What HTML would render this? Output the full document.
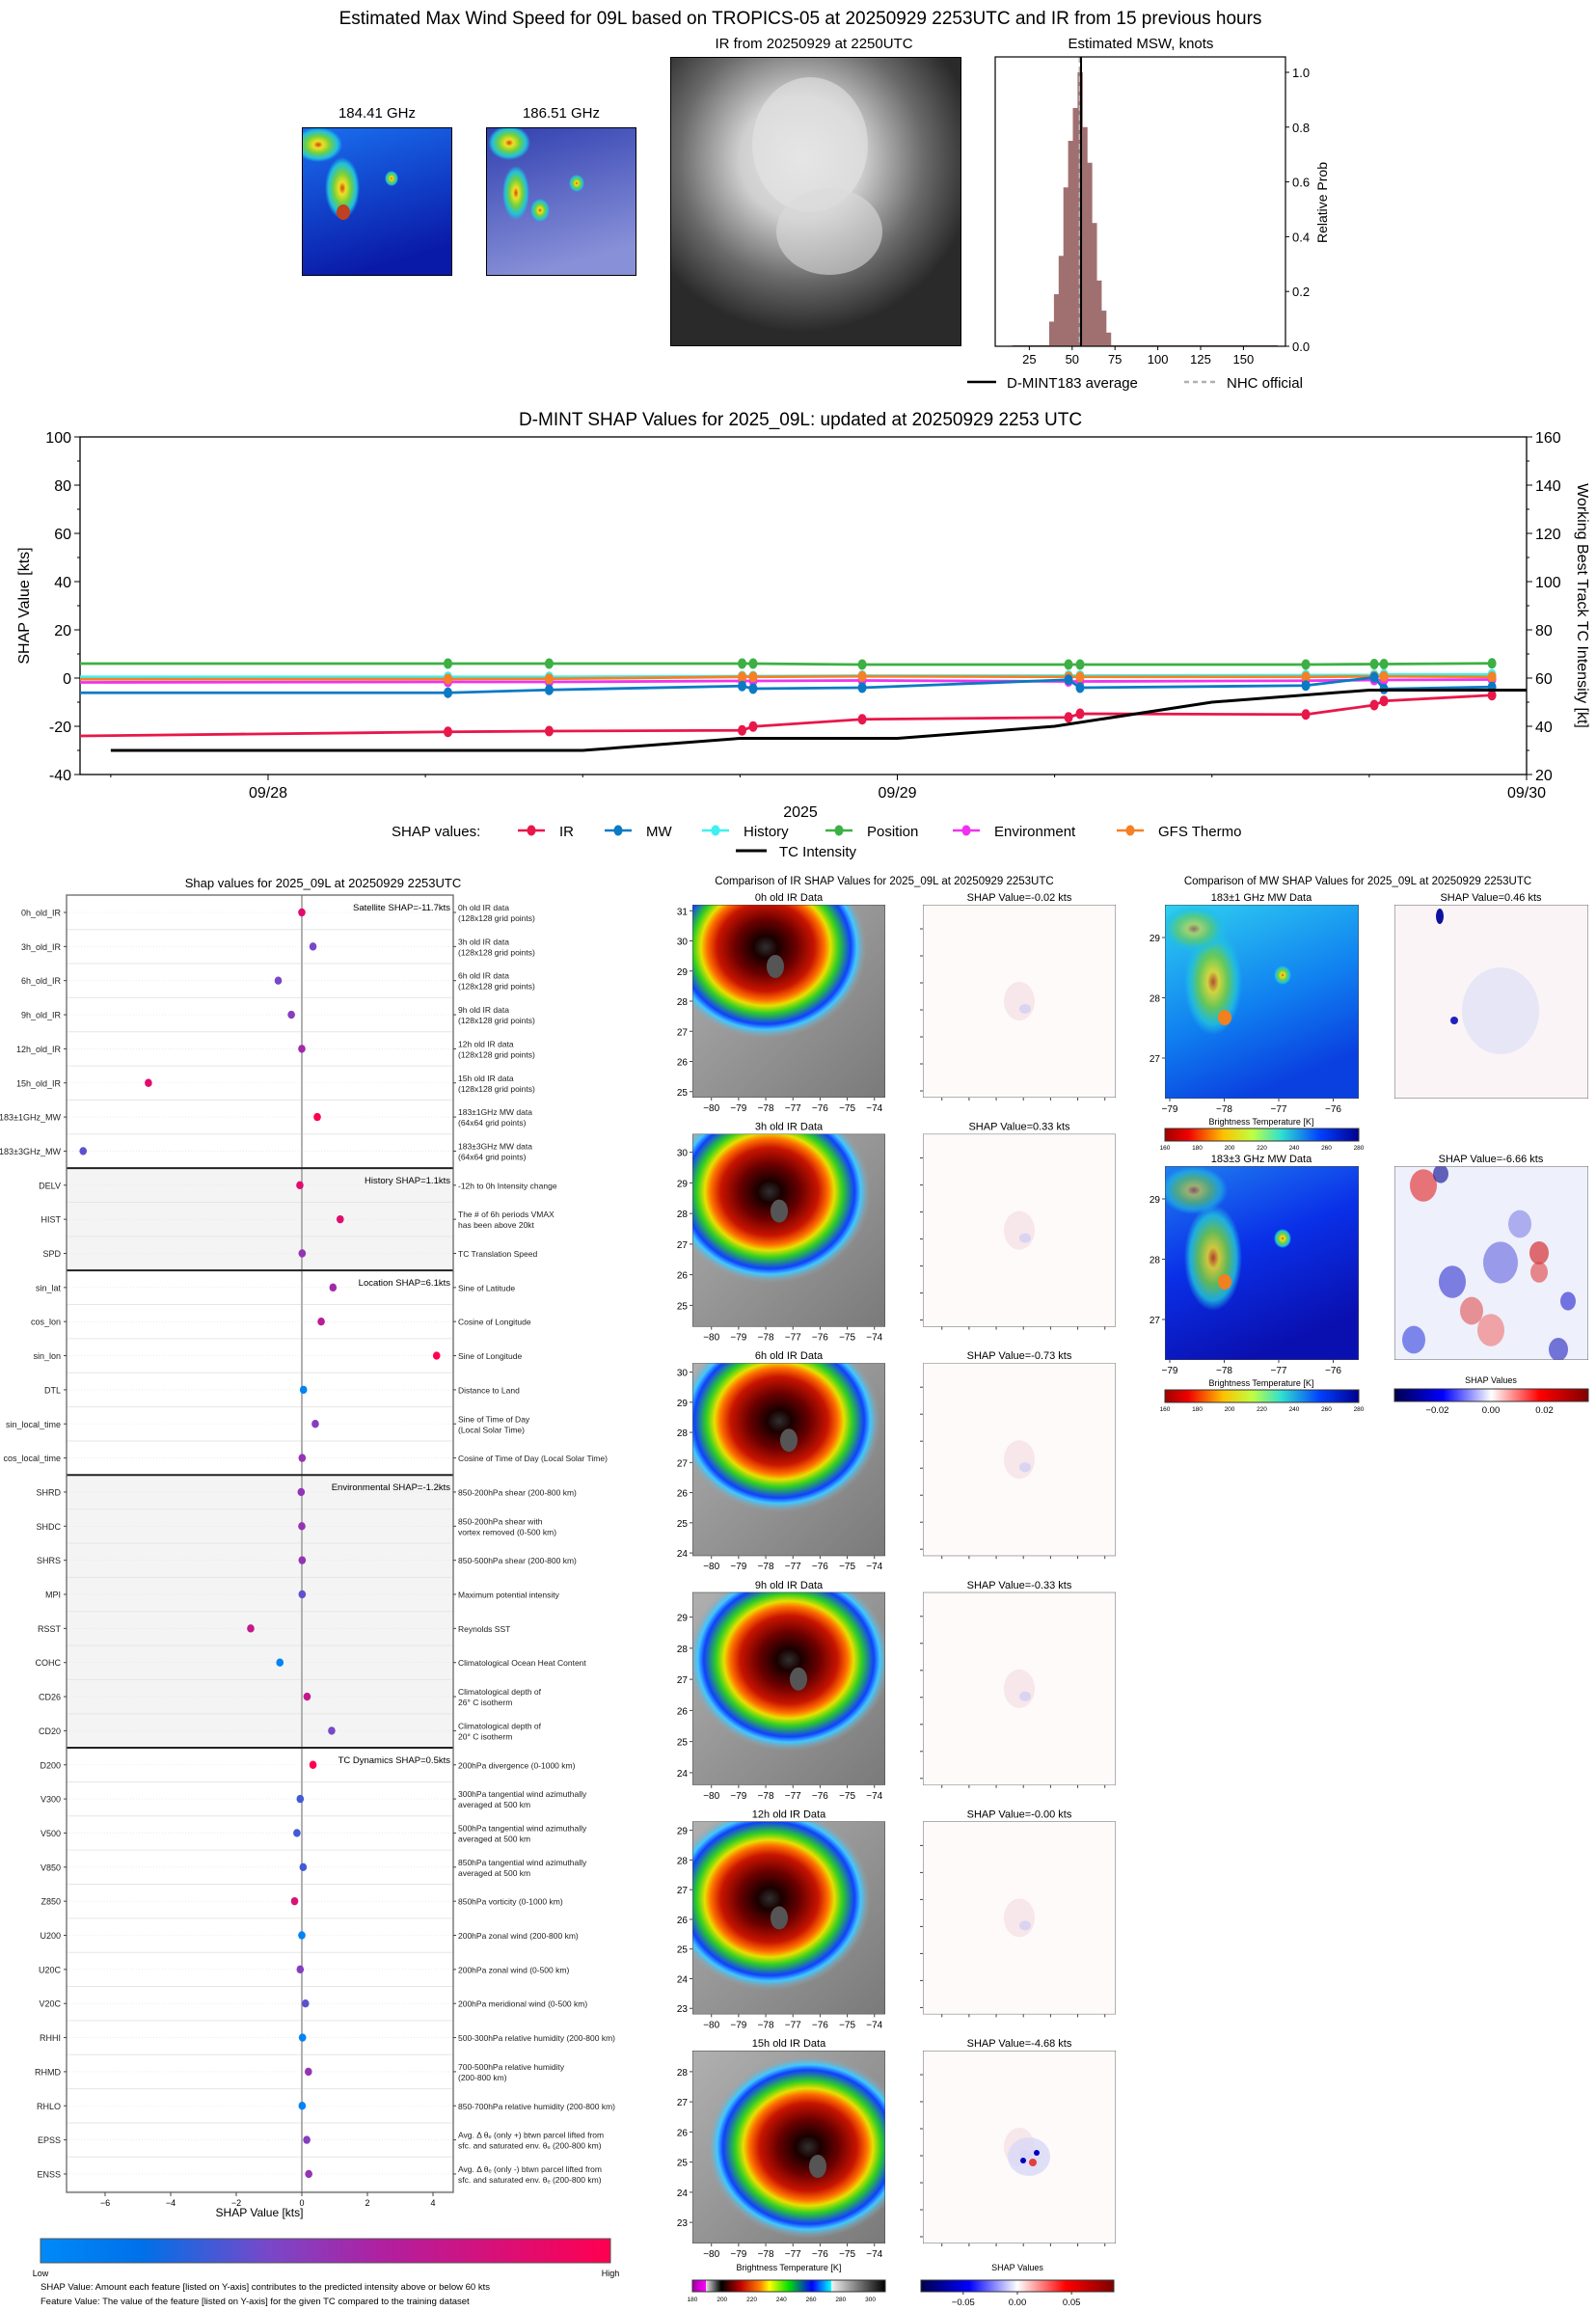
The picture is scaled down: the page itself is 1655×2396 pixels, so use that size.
<!DOCTYPE html>
<html><head><meta charset="utf-8"><style>
html,body{margin:0;padding:0;background:#fff;}
svg{display:block;font-family:"Liberation Sans","DejaVu Sans",sans-serif;}
</style></head><body>
<svg id="S" width="1655" height="2396" viewBox="0 0 1655 2396" xmlns="http://www.w3.org/2000/svg">
<defs id="D">
<radialGradient id="irStorm" cx="50%" cy="50%" r="50%">
<stop offset="0" stop-color="#303030"/><stop offset="0.12" stop-color="#1a0000"/><stop offset="0.3" stop-color="#6a0000"/><stop offset="0.48" stop-color="#c81400"/><stop offset="0.58" stop-color="#ff7000"/><stop offset="0.64" stop-color="#e8e000"/><stop offset="0.72" stop-color="#30d020"/><stop offset="0.84" stop-color="#1040ff"/><stop offset="0.9" stop-color="#40c8ff"/><stop offset="1" stop-color="#a0a0a0" stop-opacity="0"/>
</radialGradient>
<linearGradient id="irBg" x1="0" y1="0" x2="1" y2="1"><stop offset="0" stop-color="#b0b0b0"/><stop offset="1" stop-color="#7a7a7a"/></linearGradient>
<radialGradient id="bigIR" cx="45%" cy="35%" r="60%"><stop offset="0" stop-color="#e8e8e8"/><stop offset="0.35" stop-color="#cfcfcf"/><stop offset="0.7" stop-color="#6a6a6a"/><stop offset="1" stop-color="#2a2a2a"/></radialGradient>
<linearGradient id="mwBlue" x1="0" y1="0" x2="0.3" y2="1"><stop offset="0" stop-color="#1a70f0"/><stop offset="1" stop-color="#0a1aa8"/></linearGradient>
<linearGradient id="mwPurp" x1="0" y1="0" x2="0.3" y2="1"><stop offset="0" stop-color="#3040b0"/><stop offset="1" stop-color="#8890d8"/></linearGradient>
<radialGradient id="mwBlob" cx="50%" cy="50%" r="50%"><stop offset="0" stop-color="#d04010"/><stop offset="0.2" stop-color="#f0e020"/><stop offset="0.5" stop-color="#70d040"/><stop offset="0.8" stop-color="#20c0e0"/><stop offset="1" stop-color="#20c0e0" stop-opacity="0"/></radialGradient>
<linearGradient id="mwBig1" x1="0" y1="0" x2="0.4" y2="1"><stop offset="0" stop-color="#30d0f0"/><stop offset="0.6" stop-color="#1080f0"/><stop offset="1" stop-color="#0a40e0"/></linearGradient>
<linearGradient id="mwBig2" x1="0" y1="0" x2="0.4" y2="1"><stop offset="0" stop-color="#2080f0"/><stop offset="0.5" stop-color="#0a30e8"/><stop offset="1" stop-color="#0a10b0"/></linearGradient>
<linearGradient id="cbLow" x1="0" x2="1"><stop offset="0" stop-color="#008af8"/><stop offset="0.18" stop-color="#0070e8"/><stop offset="0.4" stop-color="#7848c8"/><stop offset="0.6" stop-color="#b020a0"/><stop offset="1" stop-color="#ff0050"/></linearGradient>
<linearGradient id="cbJet" x1="0" x2="1"><stop offset="0" stop-color="#a00000"/><stop offset="0.12" stop-color="#f00000"/><stop offset="0.3" stop-color="#ffc000"/><stop offset="0.45" stop-color="#c0ff40"/><stop offset="0.6" stop-color="#30e0d0"/><stop offset="0.8" stop-color="#0040ff"/><stop offset="1" stop-color="#000090"/></linearGradient>
<linearGradient id="cbSeis" x1="0" x2="1"><stop offset="0" stop-color="#00004c"/><stop offset="0.25" stop-color="#0000ff"/><stop offset="0.5" stop-color="#ffffff"/><stop offset="0.75" stop-color="#ff0000"/><stop offset="1" stop-color="#800000"/></linearGradient>
<linearGradient id="cbIR" x1="0" x2="1"><stop offset="0" stop-color="#a000a0"/><stop offset="0.07" stop-color="#ff00ff"/><stop offset="0.071" stop-color="#e0e0e0"/><stop offset="0.15" stop-color="#000000"/><stop offset="0.25" stop-color="#c00000"/><stop offset="0.35" stop-color="#ff8000"/><stop offset="0.4" stop-color="#ffff00"/><stop offset="0.5" stop-color="#00e000"/><stop offset="0.62" stop-color="#0000ff"/><stop offset="0.72" stop-color="#00ffff"/><stop offset="0.721" stop-color="#f0f0f0"/><stop offset="1" stop-color="#000000"/></linearGradient>
</defs>
</svg>
<script>
const NS="http://www.w3.org/2000/svg";
const S=document.getElementById('S');
const D=document.getElementById('D');
function el(tag,attrs,parent,txt){const e=document.createElementNS(NS,tag);for(const k in attrs)e.setAttribute(k,attrs[k]);if(txt!==undefined)e.textContent=txt;(parent||S).appendChild(e);return e;}
function T(x,y,s,size,anchor,extra){const e=el('text',Object.assign({x:x,y:y,'font-size':size,'text-anchor':anchor||'middle',fill:'#000'},extra||{}),S,s);return e;}
let clipN=0;
function clipG(x,y,w,h){const id='cp'+(clipN++);const cp=el('clipPath',{id:id},D);el('rect',{x:x,y:y,width:w,height:h},cp);return el('g',{'clip-path':'url(#'+id+')'});}

// ---------- TOP: histogram data ----------
const histStart=36.6, histBin=2.76;
const histVals=[0.09,0.19,0.33,0.58,0.75,0.87,1.0,0.8,0.67,0.45,0.24,0.13,0.05];
const histTail=0.004;
const dmintAvg=55.2, nhcOfficial=54.5;

// ---------- MIDDLE: time series data ----------
const shapHours=[-7.2,6.86,10.72,18.08,18.5,22.66,30.53,30.97,39.58,42.19,42.56,46.68];
const irVals=[-24,-22.3,-22,-21.7,-20.1,-17.1,-16.3,-14.8,-15.1,-11.2,-9.5,-7.1];
const mwVals=[-6.1,-6.1,-4.9,-3.3,-4.4,-4,-0.7,-4,-3.1,0.3,-4.5,-3.7];
const histSeries=[0.5,0.5,0.5,0.8,0.8,1,1,1,1.2,1.3,1.5,1.5];
const posVals=[6,6,6,6,6,5.6,5.6,5.6,5.6,5.8,5.8,6.1];
const envVals=[-1.8,-1.6,-1.6,-1.2,-1.2,-1.0,-1.4,-1.4,-1.1,-0.8,-0.8,-0.6];
const gfsVals=[-0.5,-0.4,-0.3,0.5,0.5,0.7,0.5,0.5,0.5,0.7,0.7,0.5];
const tcHours=[-6,0,6,12,18,24,30,36,42,48];
const tcVals=[30,30,30,30,35,35,40,50,55,55];
const dateLabels=['09/28','09/29','09/30'];

// ---------- LEFT: feature SHAP data ----------
const featNames=['0h_old_IR','3h_old_IR','6h_old_IR','9h_old_IR','12h_old_IR','15h_old_IR','183±1GHz_MW','183±3GHz_MW','DELV','HIST','SPD','sin_lat','cos_lon','sin_lon','DTL','sin_local_time','cos_local_time','SHRD','SHDC','SHRS','MPI','RSST','COHC','CD26','CD20','D200','V300','V500','V850','Z850','U200','U20C','V20C','RHHI','RHMD','RHLO','EPSS','ENSS'];
const featShap=[0.0,0.34,-0.72,-0.32,0.0,-4.68,0.47,-6.67,-0.06,1.17,0.01,0.95,0.59,4.11,0.05,0.41,0.01,-0.02,0.0,0.01,0.01,-1.56,-0.67,0.16,0.91,0.34,-0.05,-0.15,0.04,-0.22,0.0,-0.05,0.11,0.02,0.2,0.01,0.15,0.21];
const featValue=[0.85,0.4,0.4,0.45,0.55,0.85,1.0,0.35,0.85,0.85,0.5,0.55,0.65,1.0,0.05,0.45,0.5,0.5,0.5,0.5,0.35,0.7,0.05,0.7,0.4,1.0,0.3,0.3,0.3,0.8,0.05,0.45,0.35,0.05,0.5,0.05,0.45,0.5];
const featDesc=[['0h old IR data','(128x128 grid points)'],['3h old IR data','(128x128 grid points)'],['6h old IR data','(128x128 grid points)'],['9h old IR data','(128x128 grid points)'],['12h old IR data','(128x128 grid points)'],['15h old IR data','(128x128 grid points)'],['183±1GHz MW data','(64x64 grid points)'],['183±3GHz MW data','(64x64 grid points)'],['-12h to 0h Intensity change'],['The # of 6h periods VMAX','has been above 20kt'],['TC Translation Speed'],['Sine of Latitude'],['Cosine of Longitude'],['Sine of Longitude'],['Distance to Land'],['Sine of Time of Day','(Local Solar Time)'],['Cosine of Time of Day (Local Solar Time)'],['850-200hPa shear (200-800 km)'],['850-200hPa shear with','vortex removed (0-500 km)'],['850-500hPa shear (200-800 km)'],['Maximum potential intensity'],['Reynolds SST'],['Climatological Ocean Heat Content'],['Climatological depth of','26° C isotherm'],['Climatological depth of','20° C isotherm'],['200hPa divergence (0-1000 km)'],['300hPa tangential wind azimuthally','averaged at 500 km'],['500hPa tangential wind azimuthally','averaged at 500 km'],['850hPa tangential wind azimuthally','averaged at 500 km'],['850hPa vorticity (0-1000 km)'],['200hPa zonal wind (200-800 km)'],['200hPa zonal wind (0-500 km)'],['200hPa meridional wind (0-500 km)'],['500-300hPa relative humidity (200-800 km)'],['700-500hPa relative humidity','(200-800 km)'],['850-700hPa relative humidity (200-800 km)'],['Avg. Δ θₑ (only +) btwn parcel lifted from','sfc. and saturated env. θₑ (200-800 km)'],['Avg. Δ θₑ (only -) btwn parcel lifted from','sfc. and saturated env. θₑ (200-800 km)']];
const groupStarts=[0,8,11,17,25];
const groupEnds=[8,11,17,25,38];
const groupLabels=['Satellite SHAP=-11.7kts','History SHAP=1.1kts','Location SHAP=6.1kts','Environmental SHAP=-1.2kts','TC Dynamics SHAP=0.5kts'];
const groupShaded=[false,true,false,true,false];
const shapTicks=[-6,-4,-2,0,2,4];

// ---------- IR panels ----------
const irTitles=['0h old IR Data','3h old IR Data','6h old IR Data','9h old IR Data','12h old IR Data','15h old IR Data'];
const irShapVals=['-0.02','0.33','-0.73','-0.33','-0.00','-4.68'];
const irLatMin=[24.8,24.3,23.9,23.6,22.8,22.3];
const irLatMax=[31.2,30.6,30.3,29.8,29.3,28.7];
const lonTicks=[-80,-79,-78,-77,-76,-75,-74];

// ===== TOP FIGURE =====
T(830,25,'Estimated Max Wind Speed for 09L based on TROPICS-05 at 20250929 2253UTC and IR from 15 previous hours',19);
let t;
t=T(391,122,'184.41 GHz',15);  
t=T(582,122,'186.51 GHz',15);  
T(844,50,'IR from 20250929 at 2250UTC',15);
T(1183,50,'Estimated MSW, knots',15);
let g=clipG(313,132,156,154);  
el('rect',{x:313,y:132,width:156,height:154,fill:'url(#mwBlue)'},g);
el('ellipse',{cx:330,cy:150,rx:25,ry:18,fill:'url(#mwBlob)'},g);
el('ellipse',{cx:355,cy:195,rx:18,ry:32,fill:'url(#mwBlob)'},g);
el('ellipse',{cx:356,cy:220,rx:7,ry:8,fill:'#c04020'},g);
el('ellipse',{cx:406,cy:185,rx:7,ry:8,fill:'url(#mwBlob)'},g);
el('rect',{x:313,y:132,width:156,height:154,fill:'none',stroke:'#000','stroke-width':2},g);
g=clipG(504,132,156,154);  
el('rect',{x:504,y:132,width:156,height:154,fill:'url(#mwPurp)'},g);
el('ellipse',{cx:528,cy:148,rx:22,ry:18,fill:'url(#mwBlob)'},g);
el('ellipse',{cx:535,cy:200,rx:14,ry:28,fill:'url(#mwBlob)'},g);
el('ellipse',{cx:560,cy:218,rx:10,ry:12,fill:'url(#mwBlob)'},g);
el('ellipse',{cx:598,cy:190,rx:8,ry:9,fill:'url(#mwBlob)'},g);
el('rect',{x:504,y:132,width:156,height:154,fill:'none',stroke:'#000','stroke-width':2},g);
g=clipG(695,59,302,300);  
el('rect',{x:695,y:59,width:302,height:300,fill:'url(#bigIR)'},g);
el('ellipse',{cx:840,cy:150,rx:60,ry:70,fill:'#e4e4e4',opacity:0.6},g);
el('ellipse',{cx:860,cy:240,rx:55,ry:45,fill:'#dadada',opacity:0.6},g);
el('rect',{x:695,y:59,width:302,height:300,fill:'none',stroke:'#000','stroke-width':2},g);
const HX0=1032,HX1=1333,HY0=59,HY1=359;
const hx=v=>1023+v*1.776, hy=p=>HY1-p*(HY1-75);
g=el('g',{});  
el('rect',{x:hx(15),y:hy(histTail),width:hx(170)-hx(15),height:HY1-hy(histTail),fill:'#a07070'},g);
histVals.forEach((v,i)=>{const b=el('rect',{x:hx(histStart+i*histBin),y:hy(v),width:hx(histBin)-hx(0)+0.5,height:HY1-hy(v),fill:'#a07070'},g);
 });
let ln=el('line',{x1:hx(nhcOfficial),x2:hx(nhcOfficial),y1:HY0,y2:HY1,stroke:'#b0b0b0','stroke-width':2.5,'stroke-dasharray':'6,4'});
 
ln=el('line',{x1:hx(dmintAvg),x2:hx(dmintAvg),y1:HY0,y2:HY1,stroke:'#000','stroke-width':2});
 
el('rect',{x:HX0,y:HY0,width:HX1-HX0,height:HY1-HY0,fill:'none',stroke:'#000','stroke-width':1.2});
[25,50,75,100,125,150].forEach(v=>{el('line',{x1:hx(v),x2:hx(v),y1:HY1,y2:HY1+4,stroke:'#000'});T(hx(v),HY1+18,String(v),13);});
[0,0.2,0.4,0.6,0.8,1.0].forEach(v=>{el('line',{x1:HX1,x2:HX1+4,y1:hy(v),y2:hy(v),stroke:'#000'});T(HX1+7,hy(v)+5,v.toFixed(1),13,'start');});
T(1376,210,'Relative Prob',14,'middle',{transform:'rotate(-90 1376 210)'});
el('line',{x1:1003,x2:1033,y1:396,y2:396,stroke:'#000','stroke-width':2.5});
T(1044,402,'D-MINT183 average',15,'start');
el('line',{x1:1228,x2:1260,y1:396,y2:396,stroke:'#b0b0b0','stroke-width':2.5,'stroke-dasharray':'5,4'});
T(1272,402,'NHC official',15,'start');

// ===== MIDDLE TIME SERIES =====
const PL=83,PR=1583,PT=453,PB=803;
const xH=h=>278+h*(652.5/24);
const yS=v=>703-v*2.5;
const yK=k=>yS(k-60);
T(830,441,'D-MINT SHAP Values for 2025_09L: updated at 20250929 2253 UTC',19);
el('rect',{x:PL,y:PT,width:PR-PL,height:PB-PT,fill:'none',stroke:'#000','stroke-width':1.3});
for(let v=-40;v<=100;v+=10){const maj=v%20===0;el('line',{x1:PL-(maj?6:3),x2:PL,y1:yS(v),y2:yS(v),stroke:'#000'});if(maj)T(PL-9,yS(v)+6,String(v),16,'end');}
for(let k=20;k<=160;k+=10){const maj=k%20===0;el('line',{x1:PR,x2:PR+(maj?6:3),y1:yK(k),y2:yK(k),stroke:'#000'});if(maj)T(PR+9,yK(k)+6,String(k),16,'start');}
for(let h=-6;h<=48;h+=6){const maj=h%24===0;el('line',{x1:xH(h),x2:xH(h),y1:PB,y2:PB+(maj?6:3),stroke:'#000'});}
dateLabels.forEach((d,i)=>T(xH(i*24),PB+24,d,16));
T(830,847,'2025',16);
T(30,628,'SHAP Value [kts]',16,'middle',{transform:'rotate(-90 30 628)'});
T(1636,628,'Working Best Track TC Intensity [kt]',16,'middle',{transform:'rotate(90 1636 628)'});
function series(vals,color,name){const gg=el('g',{});
 const pts=vals.map((v,i)=>[Math.max(PL,xH(shapHours[i])),yS(v)]);
 el('polyline',{points:pts.map(p=>p.join(',')).join(' '),fill:'none',stroke:color,'stroke-width':2.8},gg);
 pts.forEach((p,i)=>{if(i>0){const c=el('ellipse',{cx:p[0],cy:p[1],rx:4.5,ry:5.5,fill:color},gg);}});}
series(posVals,'#3cb044','position-series');
series(histSeries,'#3ff0f0','history-series');
series(envVals,'#ee33ee','environment-series');
series(gfsVals,'#f58025','gfs-thermo-series');
series(mwVals,'#0a7ac4','mw-series');
series(irVals,'#e8174a','ir-series');
let tcl=el('polyline',{points:tcHours.map((h,i)=>xH(h)+','+yK(tcVals[i])).join(' '),fill:'none',stroke:'#000','stroke-width':3});
 
T(406,867,'SHAP values:',15,'start');
[['IR','#e8174a',551],['MW','#0a7ac4',641],['History','#3ff0f0',742],['Position','#3cb044',870],['Environment','#ee33ee',1002],['GFS Thermo','#f58025',1172]].forEach(a=>{
 const lg=el('g',{});
 el('line',{x1:a[2]-14,x2:a[2]+14,y1:861,y2:861,stroke:a[1],'stroke-width':2.5},lg);
 el('ellipse',{cx:a[2],cy:861,rx:4.5,ry:5.5,fill:a[1]},lg);
 el('text',{x:a[2]+29,y:867,'font-size':15},lg,a[0]);});
el('line',{x1:763,x2:795,y1:882,y2:882,stroke:'#000','stroke-width':3});
T(808,888,'TC Intensity',15,'start');

// ===== LEFT SHAP PANEL =====
const LL=69,LR=470,LT=928,LB=2273;
const rowY=i=>946+i*35.35;
const xF=v=>313+v*34;
T(335,920,'Shap values for 2025_09L at 20250929 2253UTC',13);
groupStarts.forEach((s,gi)=>{const y0=gi===0?LT:(rowY(s)-17.7),y1=gi===4?LB:(rowY(groupEnds[gi])-17.7);
 if(groupShaded[gi])el('rect',{x:LL,y:y0,width:LR-LL,height:y1-y0,fill:'#f4f4f4'});});
for(let i=0;i<38;i++){el('line',{x1:LL,x2:LR,y1:rowY(i)+17.7,y2:rowY(i)+17.7,stroke:'#e6e6e6','stroke-width':1});
 el('line',{x1:LL,x2:LR,y1:rowY(i),y2:rowY(i),stroke:'#e0e0e0','stroke-width':0.6,'stroke-dasharray':'1,2'});}
el('line',{x1:xF(0),x2:xF(0),y1:LT,y2:LB,stroke:'#b0b0b0','stroke-width':2});
groupStarts.forEach((s,gi)=>{if(gi>0)el('line',{x1:LL,x2:LR,y1:rowY(s)-17.7,y2:rowY(s)-17.7,stroke:'#222','stroke-width':2});
 T(467,rowY(s)-2,groupLabels[gi],9.5,'end');});
el('rect',{x:LL,y:LT,width:LR-LL,height:LB-LT,fill:'none',stroke:'#666','stroke-width':1.3});
function lowHigh(f){const st=[[0,[0,138,248]],[0.18,[0,112,232]],[0.4,[120,72,200]],[0.6,[176,32,160]],[1,[255,0,80]]];
 for(let i=1;i<st.length;i++){if(f<=st[i][0]){const a=st[i-1],b=st[i],u=(f-a[0])/(b[0]-a[0]);return 'rgb('+a[1].map((c,k)=>Math.round(c+(b[1][k]-c)*u)).join(',')+')';}}return 'rgb(255,0,80)';}
featNames.forEach((n,i)=>{const y=rowY(i);
 el('line',{x1:LL-3,x2:LL,y1:y,y2:y,stroke:'#444'});
 T(LL-6,y+3.5,n,9,'end',{fill:'#222'});
 el('line',{x1:LR,x2:LR+3,y1:y,y2:y,stroke:'#444'});
 const d=featDesc[i];
 if(d.length===1)T(LR+5,y+3.5,d[0],8.5,'start',{fill:'#222'});
 else{T(LR+5,y-2,d[0],8.5,'start',{fill:'#222'});T(LR+5,y+9,d[1],8.5,'start',{fill:'#222'});}
 const dot=el('ellipse',{cx:xF(featShap[i]),cy:y,rx:3.8,ry:4.2,fill:lowHigh(featValue[i])});
  });
shapTicks.forEach(v=>{el('line',{x1:xF(v),x2:xF(v),y1:LB,y2:LB+4,stroke:'#444'});T(xF(v),LB+14,v<0?'−'+(-v):String(v),9);});
T(269,2298,'SHAP Value [kts]',12);
el('rect',{x:42,y:2321,width:591,height:25,fill:'url(#cbLow)',stroke:'#555'});
T(42,2360,'Low',9);T(633,2360,'High',9);
T(42,2374,'SHAP Value: Amount each feature [listed on Y-axis] contributes to the predicted intensity above or below 60 kts',9.5,'start');
T(42,2389,'Feature Value: The value of the feature [listed on Y-axis] for the given TC compared to the training dataset',9.5,'start');

// ===== IR comparison panels =====
T(917,917,'Comparison of IR SHAP Values for 2025_09L at 20250929 2253UTC',11.5);
T(1408,917,'Comparison of MW SHAP Values for 2025_09L at 20250929 2253UTC',11.5);
const stormPos=[[0.38,0.22],[0.4,0.3],[0.45,0.3],[0.5,0.35],[0.4,0.4],[0.6,0.5]];
const lonX=(lon,x0,x1)=>x0+(lon+80.7)/(7.1)*(x1-x0);
for(let r=0;r<6;r++){
 const top=938+r*237.6, x0=718,x1=918,h=200;
 const pg=clipG(x0,top,200,h);
 el('rect',{x:x0,y:top,width:200,height:h,fill:'url(#irBg)'},pg);
 const sp=stormPos[r];
 el('ellipse',{cx:x0+sp[0]*200,cy:top+sp[1]*h,rx:105,ry:95,fill:'url(#irStorm)'},pg);
 el('ellipse',{cx:x0+sp[0]*200+10,cy:top+sp[1]*h+20,rx:9,ry:12,fill:'#555'},pg);
 el('rect',{x:x0,y:top,width:200,height:h,fill:'none',stroke:'#444'},pg);
 T(818,top-4,irTitles[r],11);
 const la0=irLatMin[r],la1=irLatMax[r];
 for(let la=Math.ceil(la0);la<=la1;la++){const y=top+h-(la-la0)/(la1-la0)*h;el('line',{x1:x0-3,x2:x0,y1:y,y2:y,stroke:'#444'});T(x0-5,y+4,String(la),10,'end');}
 lonTicks.forEach(lo=>{const x=lonX(lo,x0,x1);el('line',{x1:x,x2:x,y1:top+h,y2:top+h+3,stroke:'#444'});T(x,top+h+14,'−'+(-lo),10);});
 const sx=957;
 const sg=clipG(sx,top,200,h);
 el('rect',{x:sx,y:top,width:200,height:h,fill:'#fefafa'},sg);
 el('ellipse',{cx:sx+100,cy:top+100,rx:16,ry:20,fill:'#f4dde2',opacity:0.7},sg);
 el('ellipse',{cx:sx+106,cy:top+108,rx:6,ry:5,fill:'#d0d0f2',opacity:0.8},sg);
 if(r===5){el('ellipse',{cx:sx+110,cy:top+110,rx:22,ry:20,fill:'#d8d8f8',opacity:0.8},sg);el('circle',{cx:sx+104,cy:top+114,r:3,fill:'#0000c0'},sg);el('circle',{cx:sx+118,cy:top+106,r:3,fill:'#0000c0'},sg);el('circle',{cx:sx+114,cy:top+116,r:4,fill:'#e04040'},sg);}
 el('rect',{x:sx,y:top,width:200,height:h,fill:'none',stroke:'#666'},sg);
 T(sx+100,top-4,'SHAP Value='+irShapVals[r]+' kts',11);
 for(let k=0;k<7;k++){const y=top+25+k*28;el('line',{x1:sx-3,x2:sx,y1:y,y2:y,stroke:'#444'});}
 lonTicks.forEach(lo=>{const x=lonX(lo,sx,sx+200);el('line',{x1:x,x2:x,y1:top+h,y2:top+h+3,stroke:'#444'});});
}
T(818,2354,'Brightness Temperature [K]',9);
el('rect',{x:718,y:2364,width:200,height:12,fill:'url(#cbIR)',stroke:'#333'});
[180,200,220,240,260,280,300].forEach(v=>T(718+(v-180)/130*200,2386,String(v),6.5));
T(1055,2354,'SHAP Values',9);
el('rect',{x:955,y:2364,width:200,height:12,fill:'url(#cbSeis)',stroke:'#333'});
[[-0.05,'−0.05'],[0,'0.00'],[0.05,'0.05']].forEach(a=>{const x=1055+a[0]/0.089*100;el('line',{x1:x,x2:x,y1:2376,y2:2379,stroke:'#333'});T(x,2390,a[1],9.5);});

// ===== MW panels =====
const mwTitles=['183±1 GHz MW Data','183±3 GHz MW Data'];
const mwShap=['0.46','-6.66'];
const mwTops=[938,1209];
for(let r=0;r<2;r++){
 const top=mwTops[r],x0=1208,h=201;
 const mg=clipG(x0,top,201,h);
 el('rect',{x:x0,y:top,width:201,height:h,fill:r?'url(#mwBig2)':'url(#mwBig1)'},mg);
 el('ellipse',{cx:x0+50,cy:top+(r?95:80),rx:30,ry:55,fill:'url(#mwBlob)',opacity:0.85},mg);
 el('ellipse',{cx:x0+30,cy:top+25,rx:35,ry:25,fill:'url(#mwBlob)',opacity:0.6},mg);
 el('ellipse',{cx:x0+122,cy:top+(r?75:73),rx:9,ry:10,fill:'url(#mwBlob)'},mg);
 el('ellipse',{cx:x0+62,cy:top+(r?120:117),rx:7,ry:8,fill:'#f08020'},mg);
 el('rect',{x:x0,y:top,width:201,height:h,fill:'none',stroke:'#444'},mg);
 T(x0+100,top-4,mwTitles[r],11);
 [29,28,27].forEach(la=>{const y=top+34+(29-la)*62.5;el('line',{x1:x0-3,x2:x0,y1:y,y2:y,stroke:'#444'});T(x0-5,y+4,String(la),10,'end');});
 [-79,-78,-77,-76].forEach(lo=>{const x=1213+(lo+79)*56.5;el('line',{x1:x,x2:x,y1:top+h,y2:top+h+3,stroke:'#444'});T(x,top+h+14,'−'+(-lo),10);});
 T(x0+100,top+h+27,'Brightness Temperature [K]',9);
 el('rect',{x:x0,y:top+h+31,width:201,height:13,fill:'url(#cbJet)',stroke:'#333'});
 [160,180,200,220,240,260,280].forEach(v=>T(x0+(v-160)/120*201,top+h+53,String(v),6.5));
 const sx=1446;
 const sg=clipG(sx,top,201,h);
 el('rect',{x:sx,y:top,width:201,height:h,fill:r?'#eef0fb':'#fbf4f6'},sg);
 if(r===0){el('ellipse',{cx:sx+110,cy:top+110,rx:40,ry:45,fill:'#e2e2f6',opacity:0.8},sg);el('ellipse',{cx:sx+47,cy:top+12,rx:4,ry:8,fill:'#1010a0'},sg);el('circle',{cx:sx+62,cy:top+120,r:4,fill:'#2020c0'},sg);}
 else{[[30,20,14,'#e02020'],[48,8,8,'#000090'],[150,90,10,'#d01010'],[150,110,9,'#e04040'],[60,120,14,'#3030d0'],[80,150,12,'#e05050'],[170,190,10,'#2020c0'],[100,170,14,'#f07070'],[130,60,12,'#8080e8'],[20,180,12,'#3040e0'],[180,140,8,'#2020d0'],[110,100,18,'#6060e0']].forEach(b=>el('ellipse',{cx:sx+b[0],cy:top+b[1],rx:b[2],ry:b[2]*1.2,fill:b[3],opacity:0.6},sg));}
 el('rect',{x:sx,y:top,width:201,height:h,fill:'none',stroke:'#666'},sg);
 T(sx+100,top-4,'SHAP Value='+mwShap[r]+' kts',11);
}
T(1546,1434,'SHAP Values',9);
el('rect',{x:1446,y:1440,width:201,height:13,fill:'url(#cbSeis)',stroke:'#333'});
[[-0.02,'−0.02'],[0,'0.00'],[0.02,'0.02']].forEach(a=>{const x=1546+a[0]/0.036*100;T(x,1465,a[1],9.5);});
</script>
</body></html>
